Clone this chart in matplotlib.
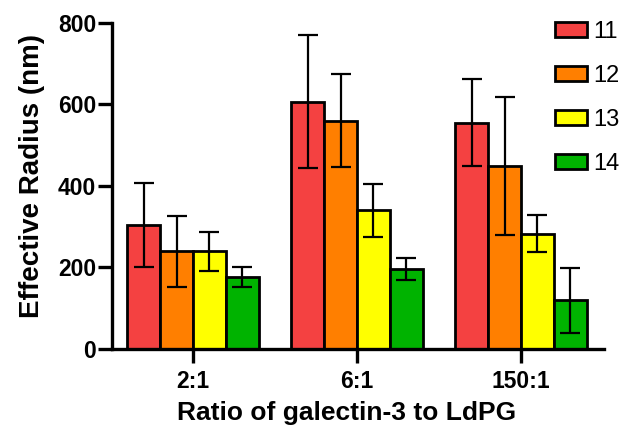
import numpy as np
import matplotlib
matplotlib.use("Agg")
import matplotlib.pyplot as plt

plt.rcParams['font.family'] = ['Liberation Sans', 'DejaVu Sans']

# data
ratios = ['2:1', '6:1', '150:1']
series = ['11', '12', '13', '14']
colors = ['#f44141', '#ff7f00', '#ffff00', '#00b300']

means = {
    '11': [304, 606, 555],
    '12': [240, 560, 449],
    '13': [240, 340, 283],
    '14': [176, 197, 119],
}
errors = {
    '11': [103, 163, 106],
    '12': [87, 115, 169],
    '13': [48, 65, 46],
    '14': [24, 27, 79],
}

fig = plt.figure(figsize=(6.27, 4.28), dpi=100)
ax = fig.add_axes([0.1786, 0.1846, 0.7847, 0.7624])

x = np.arange(len(ratios))
width = 0.2
for i, (name, color) in enumerate(zip(series, colors)):
    pos = x + (i - 1.5) * width
    ax.bar(pos, means[name], width, color=color, edgecolor='black',
           linewidth=2.0, label=name, zorder=2)
    ax.errorbar(pos, means[name], yerr=errors[name], fmt='none',
                ecolor='black', elinewidth=1.6, capsize=7.5, capthick=1.6,
                zorder=3)

ax.set_xlim(-0.494, 2.506)
ax.set_ylim(0, 800)
ax.set_yticks([0, 200, 400, 600, 800])
ax.set_xticks(x)
ax.set_xticklabels(ratios)

for side in ['top', 'right']:
    ax.spines[side].set_visible(False)
for side in ['left', 'bottom']:
    ax.spines[side].set_linewidth(2.4)

ax.tick_params(axis='both', width=2.4, length=10, labelsize=16.5, pad=1.5)
for lbl in ax.get_xticklabels() + ax.get_yticklabels():
    lbl.set_fontweight('bold')
ax.tick_params(axis='x', pad=5)

ax.set_ylabel('Effective Radius (nm)', fontsize=20, fontweight='bold', labelpad=9)
ax.set_xlabel('Ratio of galectin-3 to LdPG', fontsize=19, fontweight='bold', labelpad=6)
ax.xaxis.label.set_x(0.476)
ax.yaxis.label.set_y(0.53)

ax.legend(loc='upper left', bbox_to_anchor=(0.885, 0.951),
          bbox_transform=fig.transFigure, frameon=False, fontsize=17,
          handlelength=1.36, handleheight=0.64, handletextpad=0.25,
          labelspacing=0.93, borderpad=0, borderaxespad=0)

fig.savefig('out.png', dpi=100)
